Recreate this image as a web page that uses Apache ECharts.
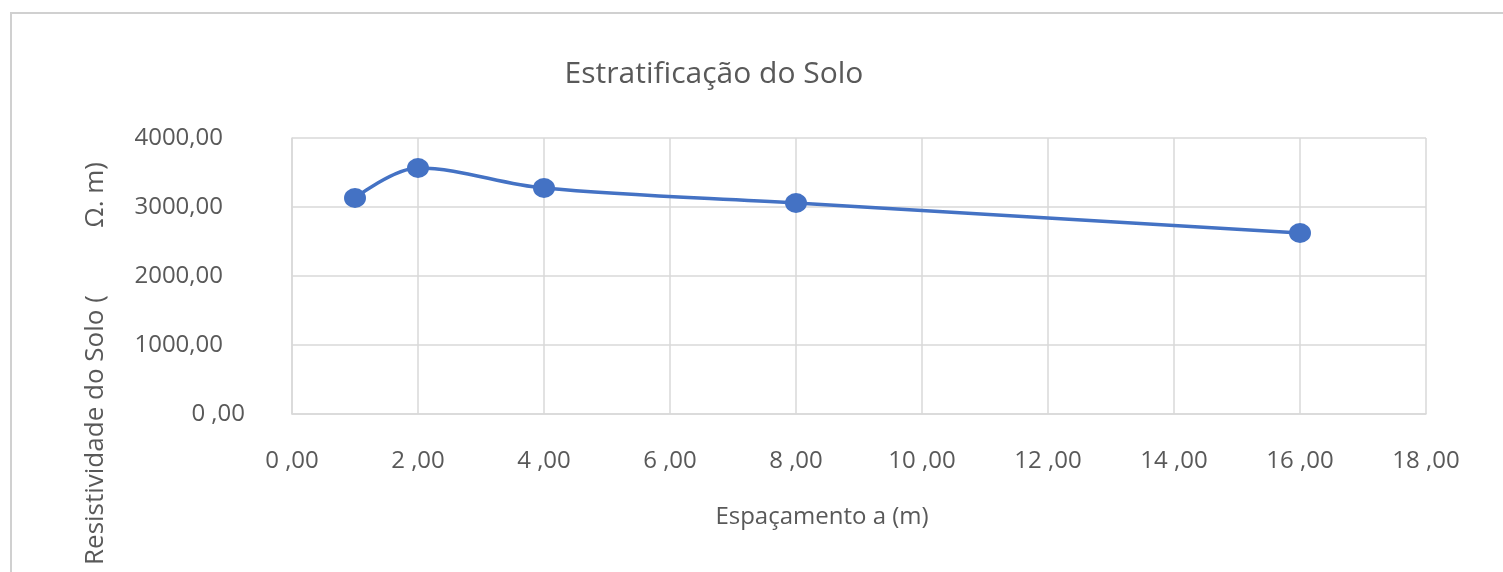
<!DOCTYPE html>
<html>
<head>
<meta charset="utf-8">
<script src="https://cdn.jsdelivr.net/npm/echarts@6/dist/echarts.min.js"></script>
<style>
html,body{margin:0;padding:0;background:#fff;}
#c{width:1503px;height:572px;}
</style>
</head>
<body>
<div id="c"></div>
<script>
const espacamento = [1, 2, 4, 8, 16];
const resistividade = [3130, 3565, 3275, 3058, 2623];
const xTickValues = [0, 2, 4, 6, 8, 10, 12, 14, 16, 18];
const xTickLabels = ['0 ,00','2 ,00','4 ,00','6 ,00','8 ,00','10 ,00','12 ,00','14 ,00','16 ,00','18 ,00'];
const yTickValues = [0, 1000, 2000, 3000, 4000];
const yTickLabels = ['0 ,00','1000,00','2000,00','3000,00','4000,00'];
const titleText = 'Estratificação do Solo';
const xName = 'Espaçamento a (m)';
const yName = 'Resistividade do Solo (          Ω. m)';

const FONT = '"Open Sans", "Noto Sans", sans-serif';
const chart = echarts.init(document.getElementById('c'));
chart.setOption({
  animation: false,
  backgroundColor: '#ffffff',
  title: {
    text: titleText,
    left: 709, top: 54, textAlign: 'center',
    textStyle: {fontFamily: FONT, fontSize: 30, fontWeight: 'normal', color: '#595959'}
  },
  graphic: [
    {type: 'rect', shape: {x: 11, y: 13, width: 1500, height: 600},
     style: {fill: 'none', stroke: '#d0d0d0', lineWidth: 2}, silent: true},
    {type: 'text', x: 96, y: 565, rotation: Math.PI / 2,
     style: {text: yName, font: '26px ' + FONT, fill: '#595959', align: 'left', verticalAlign: 'middle'}}
  ],
  grid: {left: 292, right: 77, top: 138, bottom: 158},
  xAxis: {
    type: 'value', min: 0, max: 18, interval: 2,
    name: xName, nameLocation: 'middle', nameGap: 91,
    nameTextStyle: {fontFamily: FONT, fontSize: 24, color: '#595959', padding: [0, 74, 0, 0]},
    axisLine: {show: true, lineStyle: {color: '#d9d9d9', width: 1.5}},
    axisTick: {show: false},
    splitLine: {show: true, lineStyle: {color: '#d9d9d9', width: 1.5}},
    axisLabel: {
      margin: 35, fontFamily: FONT, fontSize: 24, color: '#595959',
      formatter: v => { const i = xTickValues.indexOf(v); return i >= 0 ? xTickLabels[i] : ''; }
    }
  },
  yAxis: {
    type: 'value', min: 0, max: 4000, interval: 1000,
    axisLine: {show: true, lineStyle: {color: '#d9d9d9', width: 1.5}},
    axisTick: {show: false},
    splitLine: {show: true, lineStyle: {color: '#d9d9d9', width: 1.5}},
    axisLabel: {
      margin: 47, fontFamily: FONT, fontSize: 24, color: '#595959',
      formatter: v => {
        const i = yTickValues.indexOf(v);
        if (i < 0) return '';
        return v === 0 ? '{z|' + yTickLabels[i] + '}' : '{n|' + yTickLabels[i] + '}';
      },
      rich: {
        z: {fontFamily: FONT, fontSize: 24, color: '#595959'},
        n: {fontFamily: FONT, fontSize: 24, color: '#595959', padding: [0, 22, 0, 0]}
      }
    }
  },
  series: [{
    type: 'line',
    data: espacamento.map((x, i) => [x, resistividade[i]]),
    smooth: 0.35,
    symbol: 'circle',
    symbolSize: [22, 20],
    itemStyle: {color: '#4472C4'},
    lineStyle: {color: '#4472C4', width: 3.5}
  }]
});
</script>
</body>
</html>
